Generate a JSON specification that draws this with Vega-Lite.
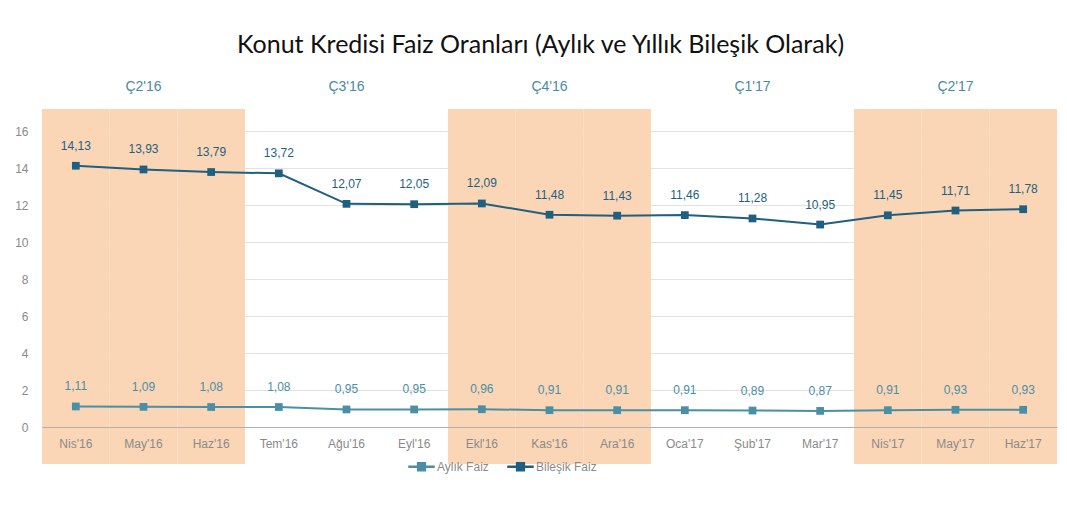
{
  "$schema": "https://vega.github.io/schema/vega-lite/v6.json",
  "autosize": {"type": "none"},
  "padding": {"left": 42, "top": 109, "right": 10, "bottom": 79},
  "width": 1015,
  "height": 318,
  "background": "white",
  "title": {
    "text": "Konut Kredisi Faiz Oranları (Aylık ve Yıllık Bileşik Olarak)",
    "font": "Lato",
    "fontSize": 25,
    "fontWeight": "normal",
    "color": "#111111",
    "anchor": "middle",
    "frame": "group",
    "dx": -9,
    "offset": 22
  },
  "config": {
    "locale": {"number": {"decimal": ",", "thousands": ".", "grouping": [3], "currency": ["", " TL"]}},
    "view": {"stroke": null},
    "font": "Liberation Sans",
    "axis": {"labelFont": "Liberation Sans"},
    "axisY": {
      "title": null, "values": [0,2,4,6,8,10,12,14,16], "domain": false, "ticks": false, "labelOverlap": false,
      "grid": true, "gridColor": "#e2e2e2", "labelColor": "#8a8a8a", "labelFontSize": 12, "labelPadding": 14
    },
    "legend": {"labelFont": "Liberation Sans"},
    "text": {"font": "Liberation Sans"}
  },
  "datasets": {
    "months": [
      {"month": "Nis'16", "shade": true},
      {"month": "May'16", "shade": true},
      {"month": "Haz'16", "shade": true},
      {"month": "Tem'16", "shade": false},
      {"month": "Ağu'16", "shade": false},
      {"month": "Eyl'16", "shade": false},
      {"month": "Ekl'16", "shade": true},
      {"month": "Kas'16", "shade": true},
      {"month": "Ara'16", "shade": true},
      {"month": "Oca'17", "shade": false},
      {"month": "Şub'17", "shade": false},
      {"month": "Mar'17", "shade": false},
      {"month": "Nis'17", "shade": true},
      {"month": "May'17", "shade": true},
      {"month": "Haz'17", "shade": true}
    ],
    "quarters": [
      {"month": "May'16", "q": "Ç2'16"},
      {"month": "Ağu'16", "q": "Ç3'16"},
      {"month": "Kas'16", "q": "Ç4'16"},
      {"month": "Şub'17", "q": "Ç1'17"},
      {"month": "May'17", "q": "Ç2'17"}
    ],
    "rates": [
      {"month": "Nis'16", "series": "Aylık Faiz", "value": 1.11},
      {"month": "May'16", "series": "Aylık Faiz", "value": 1.09},
      {"month": "Haz'16", "series": "Aylık Faiz", "value": 1.08},
      {"month": "Tem'16", "series": "Aylık Faiz", "value": 1.08},
      {"month": "Ağu'16", "series": "Aylık Faiz", "value": 0.95},
      {"month": "Eyl'16", "series": "Aylık Faiz", "value": 0.95},
      {"month": "Ekl'16", "series": "Aylık Faiz", "value": 0.96},
      {"month": "Kas'16", "series": "Aylık Faiz", "value": 0.91},
      {"month": "Ara'16", "series": "Aylık Faiz", "value": 0.91},
      {"month": "Oca'17", "series": "Aylık Faiz", "value": 0.91},
      {"month": "Şub'17", "series": "Aylık Faiz", "value": 0.89},
      {"month": "Mar'17", "series": "Aylık Faiz", "value": 0.87},
      {"month": "Nis'17", "series": "Aylık Faiz", "value": 0.91},
      {"month": "May'17", "series": "Aylık Faiz", "value": 0.93},
      {"month": "Haz'17", "series": "Aylık Faiz", "value": 0.93},
      {"month": "Nis'16", "series": "Bileşik Faiz", "value": 14.13},
      {"month": "May'16", "series": "Bileşik Faiz", "value": 13.93},
      {"month": "Haz'16", "series": "Bileşik Faiz", "value": 13.79},
      {"month": "Tem'16", "series": "Bileşik Faiz", "value": 13.72},
      {"month": "Ağu'16", "series": "Bileşik Faiz", "value": 12.07},
      {"month": "Eyl'16", "series": "Bileşik Faiz", "value": 12.05},
      {"month": "Ekl'16", "series": "Bileşik Faiz", "value": 12.09},
      {"month": "Kas'16", "series": "Bileşik Faiz", "value": 11.48},
      {"month": "Ara'16", "series": "Bileşik Faiz", "value": 11.43},
      {"month": "Oca'17", "series": "Bileşik Faiz", "value": 11.46},
      {"month": "Şub'17", "series": "Bileşik Faiz", "value": 11.28},
      {"month": "Mar'17", "series": "Bileşik Faiz", "value": 10.95},
      {"month": "Nis'17", "series": "Bileşik Faiz", "value": 11.45},
      {"month": "May'17", "series": "Bileşik Faiz", "value": 11.71},
      {"month": "Haz'17", "series": "Bileşik Faiz", "value": 11.78}
    ]
  },
  "encoding": {
    "x": {
      "field": "month",
      "type": "nominal",
      "sort": null,
      "scale": {"domain": ["Nis'16","May'16","Haz'16","Tem'16","Ağu'16","Eyl'16","Ekl'16","Kas'16","Ara'16","Oca'17","Şub'17","Mar'17","Nis'17","May'17","Haz'17"], "paddingInner": 0, "paddingOuter": 0},
      "axis": {
        "title": null, "labelAngle": 0, "ticks": false, "domain": true, "domainColor": "#b0b0b0",
        "labelColor": "#8a8a8a", "labelFontSize": 12, "labelPadding": 11, "zindex": 1
      }
    }
  },
  "layer": [
    {
      "data": {"name": "months"},
      "transform": [{"filter": "datum.shade"}],
      "mark": {"type": "rect", "color": "#fad6b6"},
      "encoding": {
        "y": {"datum": 17.2, "type": "quantitative", "scale": {"domain": [0, 17.2], "nice": false}},
        "y2": {"datum": -2}
      }
    },
    {
      "data": {"name": "quarters"},
      "mark": {"type": "text", "color": "#4a8ba3", "fontSize": 14, "font": "Liberation Sans"},
      "encoding": {
        "y": {"datum": 18.4, "type": "quantitative", "scale": {"domain": [0, 17.2], "nice": false}},
        "text": {"field": "q"}
      }
    },
    {
      "data": {"name": "rates"},
      "encoding": {
        "y": {
          "field": "value", "type": "quantitative",
          "scale": {"domain": [0, 17.2], "nice": false}
        },
        "color": {
          "field": "series", "type": "nominal",
          "scale": {"domain": ["Aylık Faiz", "Bileşik Faiz"], "range": ["#4a8fa6", "#1f5f80"]},
          "legend": {
            "title": null, "orient": "none", "legendX": 366, "legendY": 344, "direction": "horizontal",
            "symbolType": "M-1,-0.1H-0.35V-0.35H0.35V-0.1H1V0.1H0.35V0.35H-0.35V0.1H-1Z",
            "symbolSize": 700, "symbolStrokeWidth": 0, "labelFontSize": 12, "labelColor": "#8a8a8a",
            "columnPadding": 18, "labelOffset": 2
          }
        }
      },
      "layer": [
        {"mark": {"type": "line", "strokeWidth": 2}},
        {"mark": {"type": "point", "shape": "square", "filled": true, "size": 60, "opacity": 1}},
        {
          "mark": {"type": "text", "dy": -20, "fontSize": 12, "font": "Liberation Sans"},
          "encoding": {"text": {"field": "value", "type": "quantitative", "format": ".2f"}}
        }
      ]
    }
  ]
}
